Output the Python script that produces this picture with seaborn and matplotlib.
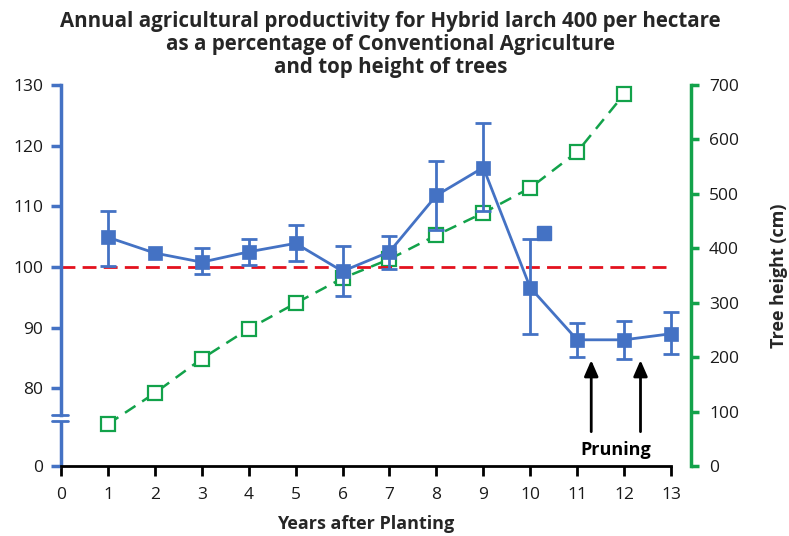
import numpy as np
import pandas as pd
import matplotlib
matplotlib.use("Agg")
import matplotlib.pyplot as plt
import seaborn as sns

# ---------------- data ----------------
years = [1, 2, 3, 4, 5, 6, 7, 8, 9, 10, 11, 12, 13]
productivity = [104.9, 102.3, 100.8, 102.5, 103.9, 99.3, 102.5, 111.8, 116.4, 96.6, 88.0, 88.0, 89.0]
prod_upper = [109.2, np.nan, 103.1, 104.6, 107.0, 103.4, 105.1, 117.4, 123.8, 104.6, 90.8, 91.1, 92.6]
prod_lower = [100.2, np.nan, 98.9, 100.3, 101.0, 95.2, 99.7, 106.1, 109.2, 88.9, 85.2, 84.9, 85.6]
stray_x = [10.3]
stray_y = [105.6]
tree_years = [1, 2, 3, 4, 5, 6, 7, 8, 9, 10, 11, 12]
tree_height = [77, 134, 197, 252, 299, 345, 380, 424, 465, 511, 577, 683]
x_ticks = list(range(0, 14))
left_ticks = [80, 90, 100, 110, 120, 130]
right_ticks = [0, 100, 200, 300, 400, 500, 600, 700]
pruning_years = [11.3, 12.35]
reference_level = 100

BLUE = "#4472c4"
GREEN = "#12a24a"
RED = "#e3121e"

sns.set_theme(style="white")
plt.rcParams["font.family"] = ["Open Sans", "DejaVu Sans"]

fig = plt.figure(figsize=(7.89, 5.36), dpi=100)
ax = fig.add_axes([61 / 789, 1 - 466 / 536, 610 / 789, 381 / 536])
ax2 = ax.twinx()

# broken-axis: "0" is drawn at this position on the left scale
ZERO_POS = 67.2
BREAK_LO, BREAK_HI = 74.6, 75.6

ax.set_xlim(0, 13)
ax.set_ylim(ZERO_POS, 130)
ax2.set_ylim(0, 700)

# green tree height
df_tree = pd.DataFrame({"year": tree_years, "height": tree_height})
sns.lineplot(data=df_tree, x="year", y="height", ax=ax2, color=GREEN,
             linewidth=1.8, linestyle=(0, (5, 3.2)), marker="s", markersize=10,
             markerfacecolor="white", markeredgecolor=GREEN, mew=1.6, clip_on=False)

# blue productivity
df_prod = pd.DataFrame({"year": years, "prod": productivity})
ax.axhline(reference_level, color=RED, linewidth=2, linestyle=(0, (5, 2.6)), zorder=1)
sns.lineplot(data=df_prod, x="year", y="prod", ax=ax, color=BLUE, linewidth=2,
             marker="s", markersize=9.5, markeredgecolor=BLUE, mew=0.5, zorder=3,
             clip_on=False)
prod = np.array(productivity)
up = np.array(prod_upper) - prod
lo = prod - np.array(prod_lower)
eb = ax.errorbar(years, productivity, yerr=[lo, up], fmt="none", ecolor=BLUE,
                 elinewidth=2, capsize=6, capthick=2, zorder=3)
for child in eb.get_children():
    child.set_clip_on(False)
ax.plot(stray_x, stray_y, "s", color=BLUE, markersize=9.5, zorder=3)

ax.set_zorder(ax2.get_zorder() + 1)
ax.patch.set_visible(False)

# axes styling
for s in ["top", "right"]:
    ax.spines[s].set_visible(False)
for s in ["top", "left", "bottom"]:
    ax2.spines[s].set_visible(False)

ax.spines["bottom"].set_color("black")
ax.spines["bottom"].set_linewidth(2)
ax.spines["left"].set_color(BLUE)
ax.spines["left"].set_linewidth(2.5)
ax.spines["left"].set_bounds(BREAK_HI, 130)
yt = ax.get_yaxis_transform()
ax.plot([0, 0], [ZERO_POS, BREAK_LO], color=BLUE, lw=2.5, transform=yt, clip_on=False,
        solid_capstyle="butt")
for b in (BREAK_LO, BREAK_HI):
    ax.plot([-0.015, 0.011], [b, b], color=BLUE, lw=2, transform=yt, clip_on=False)

ax2.spines["right"].set_color(GREEN)
ax2.spines["right"].set_linewidth(2.5)
ax2.spines["right"].set_position(("outward", 14.4))

ax.set_xticks(x_ticks)
ax.set_xticklabels([str(v) for v in x_ticks])
ax.set_yticks([ZERO_POS] + left_ticks)
ax.set_yticklabels(["0"] + [str(v) for v in left_ticks])
ax2.set_yticks(right_ticks)
ax2.set_yticklabels([str(v) for v in right_ticks])

ax.tick_params(axis="x", bottom=True, direction="out", length=7, width=2, color="black",
               labelsize=12.5, pad=8, labelcolor="#1a1a1a")
ax.tick_params(axis="y", left=True, direction="out", length=7, width=2.5, color=BLUE,
               labelsize=12.5, pad=6, labelcolor="#1a1a1a")
ax2.tick_params(axis="y", right=True, direction="out", length=6, width=2.5, color=GREEN,
                labelsize=12.5, pad=7, labelcolor="#1a1a1a")
ax.grid(False)
ax2.grid(False)

ax.set_xlabel("Years after Planting", fontsize=13, fontweight="bold", labelpad=9)
ax.set_ylabel("")
ax2.set_ylabel("Tree height (cm)", fontsize=13, fontweight="bold", labelpad=22)

# pruning arrows
for px in pruning_years:
    ax.annotate("", xy=(px, 85.1), xytext=(px, 72.4),
                arrowprops=dict(arrowstyle="-|>,head_width=0.35,head_length=0.8",
                                color="black", lw=2))
ax.text(np.mean(pruning_years), 69.8, "Pruning", ha="center", va="center",
        fontsize=13, fontweight="bold", color="black")

fig.suptitle("Annual agricultural productivity for Hybrid larch 400 per hectare\n"
             "as a percentage of Conventional Agriculture\nand top height of trees",
             x=0.495, y=0.979, fontsize=14.8, fontweight="bold", linespacing=1.13)

fig.savefig("out.png", dpi=100)
